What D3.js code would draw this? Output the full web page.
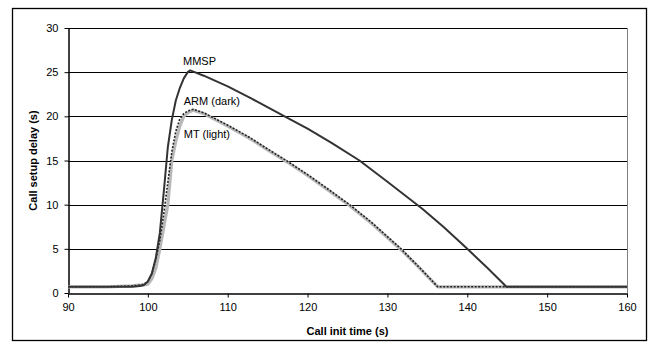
<!DOCTYPE html>
<html>
<head>
<meta charset="utf-8">
<script src="https://cdn.jsdelivr.net/npm/d3@7"></script>
<style>
  body { margin: 0; background: #fff; }
  svg { font-family: "Liberation Sans", Arial, sans-serif; }
</style>
</head>
<body>
<svg id="chart" width="652" height="347"></svg>
<script>
// call init time (s)
var mmspTime = [90, 95, 98, 99, 99.5, 100, 100.5, 101, 101.5, 102, 102.5, 103, 103.5, 104, 104.5, 105, 105.3, 107, 110, 113, 117.3, 120, 123, 126.5, 130, 134.4, 137, 140, 142.5, 144.9, 150, 160];
var mmspDelay = [0.7, 0.7, 0.7, 0.8, 0.9, 1.3, 2.2, 4.0, 6.8, 11.5, 16.5, 19.6, 21.8, 23.2, 24.3, 25.0, 25.2, 24.6, 23.4, 22.0, 19.9, 18.6, 17.0, 15.0, 12.6, 9.5, 7.5, 5.0, 2.85, 0.7, 0.7, 0.7];

var armTime = [90, 95, 98, 99, 99.5, 100, 100.5, 101, 101.5, 102, 102.5, 103, 103.5, 104, 104.5, 105, 105.7, 107, 110, 112.75, 115, 117.5, 120, 122.5, 125.25, 128, 131.7, 134, 136.3, 140, 150, 160];
var armDelay = [0.7, 0.7, 0.8, 0.9, 1.0, 1.3, 2.2, 3.8, 6.0, 9.0, 12.5, 16.0, 18.3, 19.7, 20.3, 20.6, 20.8, 20.4, 19.0, 17.6, 16.3, 14.9, 13.4, 11.8, 10.0, 8.0, 5.0, 2.9, 0.7, 0.7, 0.7, 0.7];

var mtTime = [90, 95, 98, 99, 99.5, 100, 100.5, 101, 101.5, 102, 102.5, 103, 103.5, 104, 104.5, 105, 105.7, 107, 110, 112.75, 115, 117.5, 120, 122.5, 125.25, 128, 131.7, 134, 136.3, 140, 150, 160];
var mtDelay = [0.7, 0.7, 0.8, 0.9, 0.9, 1.0, 1.6, 2.8, 5.0, 7.5, 10.0, 15.0, 17.2, 18.9, 20.0, 20.4, 20.7, 20.3, 18.9, 17.5, 16.2, 14.8, 13.3, 11.7, 9.9, 7.9, 4.9, 2.85, 0.7, 0.7, 0.7, 0.7];

var xTicks = [90, 100, 110, 120, 130, 140, 150, 160];
var yTicks = [0, 5, 10, 15, 20, 25, 30];
var labels = [
  {text: "MMSP", t: 104.4, v: 25.8},
  {text: "ARM (dark)", t: 104.5, v: 21.3},
  {text: "MT (light)", t: 104.5, v: 17.6}
];

var svg = d3.select("#chart"),
    margin = {top: 28, right: 25, bottom: 54, left: 68},
    width = 652 - margin.left - margin.right,
    height = 347 - margin.top - margin.bottom;

// outer frame
svg.append("rect")
  .attr("x", 12.5).attr("y", 8.5)
  .attr("width", 634).attr("height", 332)
  .attr("fill", "#fff")
  .attr("stroke", "#000")
  .attr("stroke-width", 1.3);

var g = svg.append("g").attr("transform", "translate(" + margin.left + "," + margin.top + ")");

var x = d3.scaleLinear().domain([90, 160]).range([0, width]);
var y = d3.scaleLinear().domain([0, 30]).range([height, 0]);

// gridlines
g.selectAll(".grid")
  .data(yTicks.slice(1))
  .enter().append("line")
    .attr("x1", 0).attr("x2", width)
    .attr("y1", function(d) { return Math.round(y(d)) + 0.5; })
    .attr("y2", function(d) { return Math.round(y(d)) + 0.5; })
    .attr("stroke", "#000")
    .attr("stroke-width", 1);

// right plot border
g.append("line")
  .attr("x1", width + 0.5).attr("x2", width + 0.5)
  .attr("y1", 0).attr("y2", height)
  .attr("stroke", "#808080");

var xAxis = g.append("g")
  .attr("transform", "translate(0," + (Math.round(height) + 0.5) + ")")
  .call(d3.axisBottom(x).tickValues(xTicks).tickSize(4).tickSizeOuter(0).tickPadding(6));
var yAxis = g.append("g")
  .attr("transform", "translate(0.5,0)")
  .call(d3.axisLeft(y).tickValues(yTicks).tickSize(4).tickSizeOuter(0).tickPadding(6));

[xAxis, yAxis].forEach(function(a) {
  a.select(".domain").attr("stroke", "#000").attr("stroke-width", 1.5);
  a.selectAll(".tick line").attr("stroke", "#000");
  a.selectAll(".tick text").attr("fill", "#000").style("font-size", "11px")
    .style("font-family", "'Liberation Sans', Arial, sans-serif");
});

var line = d3.line()
  .x(function(d) { return x(d[0]); })
  .y(function(d) { return y(d[1]); });

function pairs(t, v) { return t.map(function(d, i) { return [d, v[i]]; }); }

// MT (light)
g.append("path")
  .attr("d", line(pairs(mtTime, mtDelay)))
  .attr("fill", "none")
  .attr("stroke", "#b8b8b8")
  .attr("stroke-width", 3.2)
  .attr("stroke-linejoin", "round");

// ARM (dark), dotted
g.append("path")
  .attr("d", line(pairs(armTime, armDelay)))
  .attr("fill", "none")
  .attr("stroke", "#222")
  .attr("stroke-width", 1.6)
  .attr("stroke-dasharray", "2,1.5");

// MMSP
g.append("path")
  .attr("d", line(pairs(mmspTime, mmspDelay)))
  .attr("fill", "none")
  .attr("stroke", "#333")
  .attr("stroke-width", 2)
  .attr("stroke-linejoin", "round");

g.selectAll(".lbl")
  .data(labels)
  .enter().append("text")
    .attr("x", function(d) { return x(d.t); })
    .attr("y", function(d) { return y(d.v); })
    .style("font-size", "11px")
    .attr("fill", "#000")
    .text(function(d) { return d.text; });

// axis titles
g.append("text")
  .attr("x", width / 2)
  .attr("y", height + 42)
  .attr("text-anchor", "middle")
  .style("font-size", "11px")
  .style("font-weight", "bold")
  .text("Call init time (s)");

g.append("text")
  .attr("transform", "rotate(-90)")
  .attr("x", -height / 2)
  .attr("y", -31)
  .attr("text-anchor", "middle")
  .style("font-size", "11px")
  .style("font-weight", "bold")
  .text("Call setup delay (s)");
</script>
</body>
</html>
